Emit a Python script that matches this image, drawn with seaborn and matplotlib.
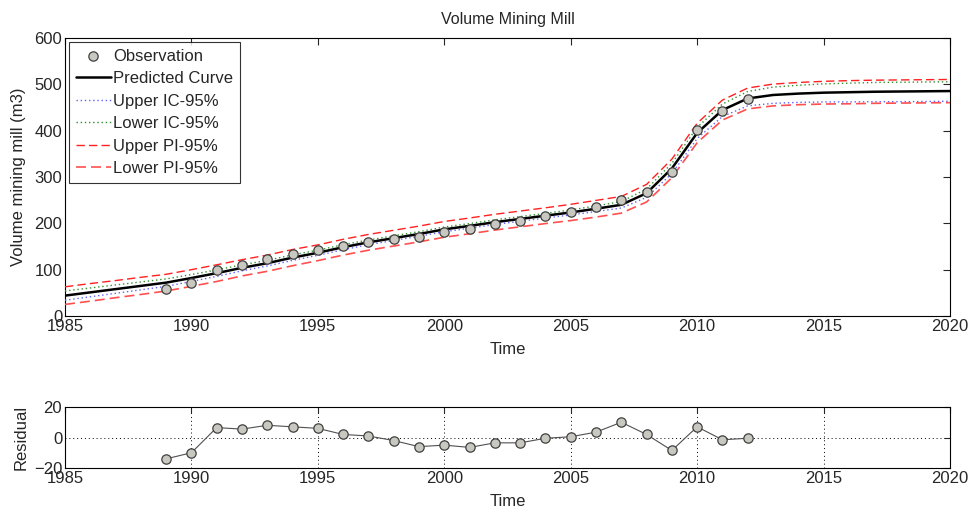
import numpy as np
import pandas as pd
import matplotlib
matplotlib.use("Agg")
import matplotlib.pyplot as plt
import seaborn as sns

# ---- data ----
years_curve = list(range(1985, 2021))
predicted = [44, 51, 58, 65, 72, 82, 92.5, 104, 114, 126, 136.5, 148.5, 159, 168,
             177, 187, 194.5, 202.5, 209.5, 216.5, 223.5, 231.5, 240, 265, 318.5,
             395, 444.5, 469.5, 477, 480, 482, 483, 484, 484.5, 485, 485.5]
ic_up_half = [10, 9.5, 9, 8.5, 8, 7.5, 7, 6.5, 6, 6, 5.5, 5.5, 5, 5, 5, 5, 5, 5,
              5, 5, 5.5, 6, 7, 9, 11, 12, 13, 15, 17, 18, 19, 19.5, 20, 20, 20, 20]
ic_lo_half = [10, 9.5, 9, 8.5, 8, 7.5, 7, 6.5, 6, 6, 5.5, 5.5, 5, 5, 5, 5, 5, 5,
              5, 5, 5.5, 6, 7, 9, 11, 12, 14, 16, 18, 19, 20, 21, 21.5, 22, 22, 22]
pi_half = [19, 19, 18.5, 18.5, 18, 18, 18, 17.5, 17.5, 17.5, 17, 17, 17, 17,
           17, 17, 17, 17, 17, 17, 17.5, 18, 18, 19, 20, 21, 21.5, 22.5, 23.5,
           24, 24.5, 25, 25, 25, 25, 25]

years_obs = list(range(1989, 2013))
observed = [58, 72, 99, 109.5, 122, 133, 142.5, 150.5, 160, 166, 171, 182, 188,
            199, 206, 216, 224, 235, 250, 267, 310, 402, 443, 469]
residual = [-14, -10, 6.5, 5.5, 8, 7, 6, 2, 1, -2, -6, -5, -6.5, -3.5, -3.5,
            -0.5, 0.5, 3.5, 10, 2, -8.5, 7, -1.5, -0.5]

x_ticks = [1985, 1990, 1995, 2000, 2005, 2010, 2015, 2020]
y_ticks_main = [0, 100, 200, 300, 400, 500, 600]
y_ticks_res = [-20, 0, 20]

# ---- styling ----
sns.set_style("white")
plt.rcParams["font.family"] = ["Liberation Sans", "DejaVu Sans"]
plt.rcParams["font.size"] = 12
plt.rcParams["xtick.direction"] = "in"
plt.rcParams["ytick.direction"] = "in"

fig = plt.figure(figsize=(9.74, 5.11), dpi=100)
W, H = 974, 511
ax = fig.add_axes([65 / W, 1 - 316 / H, 885 / W, 278 / H])
axr = fig.add_axes([65 / W, 1 - 468 / H, 885 / W, 61 / H])

pred = np.array(predicted)
dfc = pd.DataFrame({
    "Time": years_curve,
    "pred": pred,
    "ic_up": pred - np.array(ic_lo_half),
    "ic_lo": pred + np.array(ic_up_half),
    "pi_up": pred + np.array(pi_half),
    "pi_lo": pred - np.array(pi_half),
})
dfo = pd.DataFrame({"Time": years_obs, "obs": observed, "res": residual})

obs_face = "#c8c8c0"
sns.scatterplot(data=dfo, x="Time", y="obs", ax=ax, color=obs_face,
                edgecolor="#404040", linewidth=0.9, s=45, zorder=5,
                label="Observation")
sns.lineplot(data=dfc, x="Time", y="pred", ax=ax, color="black", lw=1.8,
             label="Predicted Curve", zorder=4)
sns.lineplot(data=dfc, x="Time", y="ic_up", ax=ax, color="#6060ff", lw=1.0,
             linestyle=(0, (1, 2)), label="Upper IC-95%", zorder=3)
sns.lineplot(data=dfc, x="Time", y="ic_lo", ax=ax, color="#309030", lw=1.0,
             linestyle=(0, (1, 2)), label="Lower IC-95%", zorder=3)
sns.lineplot(data=dfc, x="Time", y="pi_up", ax=ax, color="#ff2020", lw=1.0,
             linestyle=(0, (6, 3)), label="Upper PI-95%", zorder=3)
sns.lineplot(data=dfc, x="Time", y="pi_lo", ax=ax, color="#ff5050", lw=1.2,
             linestyle=(0, (6, 3)), label="Lower PI-95%", zorder=3)

ax.set_xlim(1985, 2020)
ax.set_ylim(0, 600)
ax.set_xticks(x_ticks)
ax.set_yticks(y_ticks_main)
ax.set_xlabel("Time", labelpad=6)
ax.set_ylabel("Volume mining mill (m3)", labelpad=6)
ax.set_title("Volume Mining Mill", fontsize=11.5, pad=10)
ax.tick_params(length=5, width=0.8, top=True, right=True, pad=2)
for s in ax.spines.values():
    s.set_color("black")
    s.set_linewidth(0.8)

leg = ax.legend(loc="upper left", frameon=True, fancybox=False,
                borderaxespad=0.25, handlelength=2.1, handletextpad=0.15,
                labelspacing=0.45, borderpad=0.4, fontsize=12)
leg.get_frame().set_edgecolor("black")
leg.get_frame().set_linewidth(0.8)

# residual panel
sns.lineplot(data=dfo, x="Time", y="res", ax=axr, color="#505050", lw=0.8,
             zorder=3)
sns.scatterplot(data=dfo, x="Time", y="res", ax=axr, color=obs_face,
                edgecolor="#404040", linewidth=0.9, s=45, zorder=4)
axr.set_xlim(1985, 2020)
axr.set_ylim(-20, 20)
axr.set_xticks(x_ticks)
axr.set_yticks(y_ticks_res)
axr.grid(True, color="black", linestyle=(0, (1, 3)), linewidth=0.7)
axr.set_xlabel("Time", labelpad=6)
axr.set_ylabel("Residual", labelpad=4)
axr.tick_params(length=4, width=0.8, top=True, right=True, pad=2)
for s in axr.spines.values():
    s.set_color("black")
    s.set_linewidth(0.8)

fig.savefig("out.png", dpi=100)
